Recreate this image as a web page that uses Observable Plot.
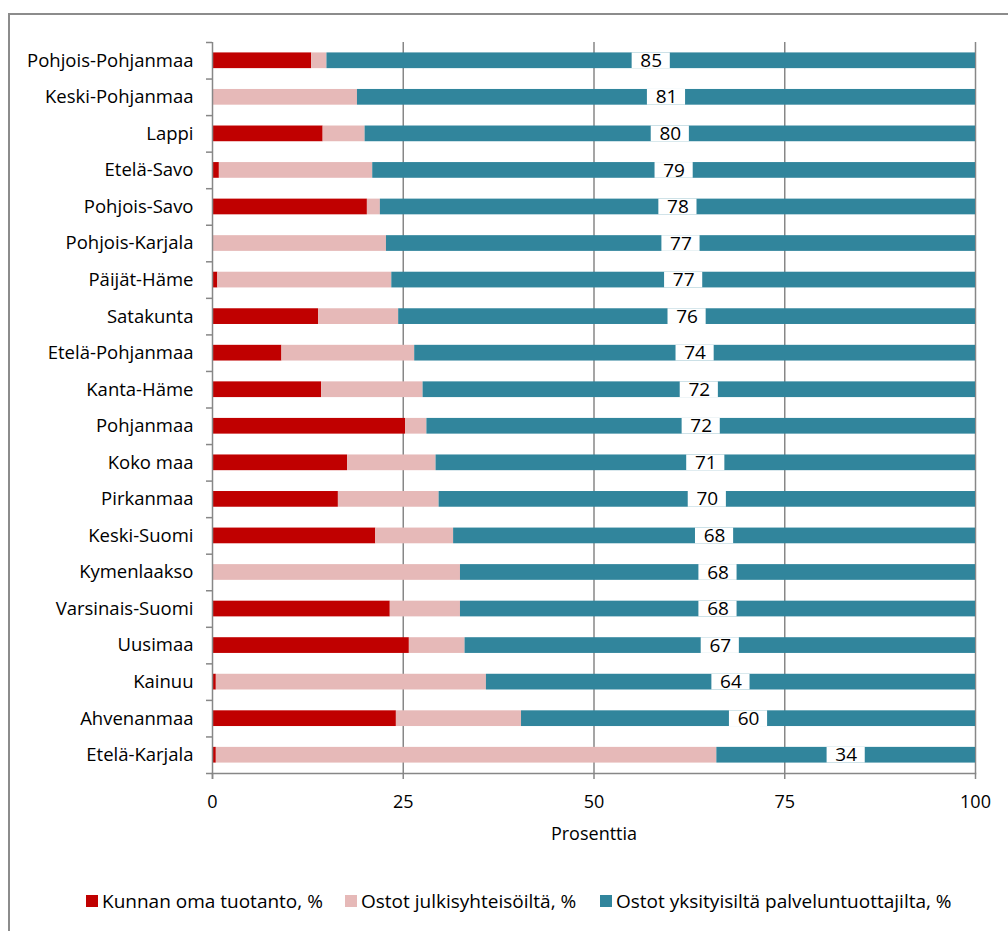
<!DOCTYPE html>
<html>
<head>
<meta charset="utf-8">
<script src="https://cdn.jsdelivr.net/npm/d3@7"></script>
<script src="https://cdn.jsdelivr.net/npm/@observablehq/plot@0.6"></script>
<style>
  html, body { margin: 0; padding: 0; background: #fff; overflow: hidden; }
  body { width: 1008px; height: 931px; position: relative; font-family: "Open Sans", sans-serif; }
  #frame { position: absolute; left: 8px; top: 13px; width: 1100px; height: 1000px; border: 2px solid #8c8c8c; box-sizing: border-box; }
  #chart { position: absolute; left: 0; top: 0; }
  .leg { position: absolute; top: 889px; font-size: 19px; color: #000; white-space: nowrap; line-height: 24px; }
  .leg span.sw { display: inline-block; width: 12px; height: 12px; position: absolute; left: 0; top: 6px; }
  .leg span.tx { margin-left: 16px; }
</style>
</head>
<body>
<div id="frame"></div>
<div id="chart"></div>
<div id="legend"></div>
<script>
const categories = ["Pohjois-Pohjanmaa", "Keski-Pohjanmaa", "Lappi", "Etelä-Savo", "Pohjois-Savo", "Pohjois-Karjala", "Päijät-Häme", "Satakunta", "Etelä-Pohjanmaa", "Kanta-Häme", "Pohjanmaa", "Koko maa", "Pirkanmaa", "Keski-Suomi", "Kymenlaakso", "Varsinais-Suomi", "Uusimaa", "Kainuu", "Ahvenanmaa", "Etelä-Karjala"];
const ownProduction = [13, 0, 14.5, 0.9, 20.3, 0.1, 0.7, 13.9, 9.1, 14.3, 25.3, 17.7, 16.5, 21.4, 0, 23.3, 25.8, 0.5, 24.1, 0.5];
const publicPurchases = [2, 19, 5.5, 20.1, 1.7, 22.7, 22.8, 10.5, 17.4, 13.3, 2.8, 11.6, 13.2, 10.2, 32.5, 9.2, 7.3, 35.4, 16.4, 65.6];
const privatePurchases = [85, 81, 80, 79, 78, 77.2, 76.5, 75.6, 73.5, 72.4, 71.9, 70.7, 70.3, 68.4, 67.5, 67.5, 66.9, 64.1, 59.5, 33.9];
const privateLabels = [85, 81, 80, 79, 78, 77, 77, 76, 74, 72, 72, 71, 70, 68, 68, 68, 67, 64, 60, 34];
const seriesNames = ["Kunnan oma tuotanto, %", "Ostot julkisyhteisöiltä, %", "Ostot yksityisiltä palveluntuottajilta, %"];
const seriesColors = ["#C00000", "#E6B9B8", "#31859C"];
const xTicks = [0, 25, 50, 75, 100];
const xLabel = "Prosenttia";

const rows = categories.flatMap((c, i) => [
  {cat: c, series: seriesNames[0], value: ownProduction[i]},
  {cat: c, series: seriesNames[1], value: publicPurchases[i]},
  {cat: c, series: seriesNames[2], value: privatePurchases[i]}
]);
const labelRows = categories.map((c, i) => ({
  cat: c,
  mid: ownProduction[i] + publicPurchases[i] + privatePurchases[i] / 2,
  label: String(privateLabels[i])
}));

const W = 1008, H = 850, mT = 42, mB = 77, mL = 212, mR = 33;
const step = (H - mT - mB) / categories.length;
const gray = "#878787";

const chart = Plot.plot({
  width: W, height: H,
  marginLeft: mL, marginRight: mR, marginTop: mT, marginBottom: mB,
  x: {domain: [0, 100], axis: null},
  y: {domain: categories, paddingInner: 0.57, paddingOuter: 0.285, round: false, axis: null},
  color: {domain: seriesNames, range: seriesColors},
  style: {fontFamily: "'Open Sans', sans-serif", fontSize: "18px", color: "#000", background: "transparent", overflow: "visible"},
  marks: [
    Plot.ruleX(xTicks.slice(1), {stroke: gray, strokeWidth: 1.5}),
    Plot.barX(rows, Plot.stackX({y: "cat", x: "value", fill: "series", order: null})),
    Plot.barX(labelRows, {y: "cat", x1: d => d.mid - 2.5, x2: d => d.mid + 2.5, fill: "white"}),
    Plot.text(labelRows, {y: "cat", x: "mid", text: "label", fontSize: 19, fill: "#000"}),
    Plot.ruleX([0], {stroke: gray, strokeWidth: 1.5, insetBottom: -6}),
    Plot.ruleY(categories, {y: d => d, x1: 0, x2: 0, dy: -step / 2, insetLeft: -6, stroke: gray, strokeWidth: 1.5}),
    Plot.ruleY([categories[categories.length - 1]], {y: d => d, x1: 0, x2: 0, dy: step / 2, insetLeft: -6, stroke: gray, strokeWidth: 1.5}),
    Plot.axisY({tickSize: 0, tickPadding: 19, fontSize: 18.5, fill: "#000", label: null}),
    Plot.axisX({ticks: xTicks, tickSize: 6, tickPadding: 16, stroke: gray, strokeWidth: 1.5, fill: "#000", fontSize: 18, label: null}),
    Plot.frame({anchor: "bottom", stroke: gray, strokeWidth: 1.5}),
    Plot.text([xLabel], {text: d => d, frameAnchor: "bottom", dy: 66, fontSize: 18, fill: "#000"})
  ]
});
document.getElementById("chart").appendChild(chart);

const legendX = [86, 345, 600];
const legend = document.getElementById("legend");
seriesNames.forEach((name, i) => {
  const d = document.createElement("div");
  d.className = "leg";
  d.style.left = legendX[i] + "px";
  d.innerHTML = `<span class="sw" style="background:${seriesColors[i]}"></span><span class="tx"></span>`;
  d.querySelector(".tx").textContent = name;
  legend.appendChild(d);
});
</script>
</body>
</html>
